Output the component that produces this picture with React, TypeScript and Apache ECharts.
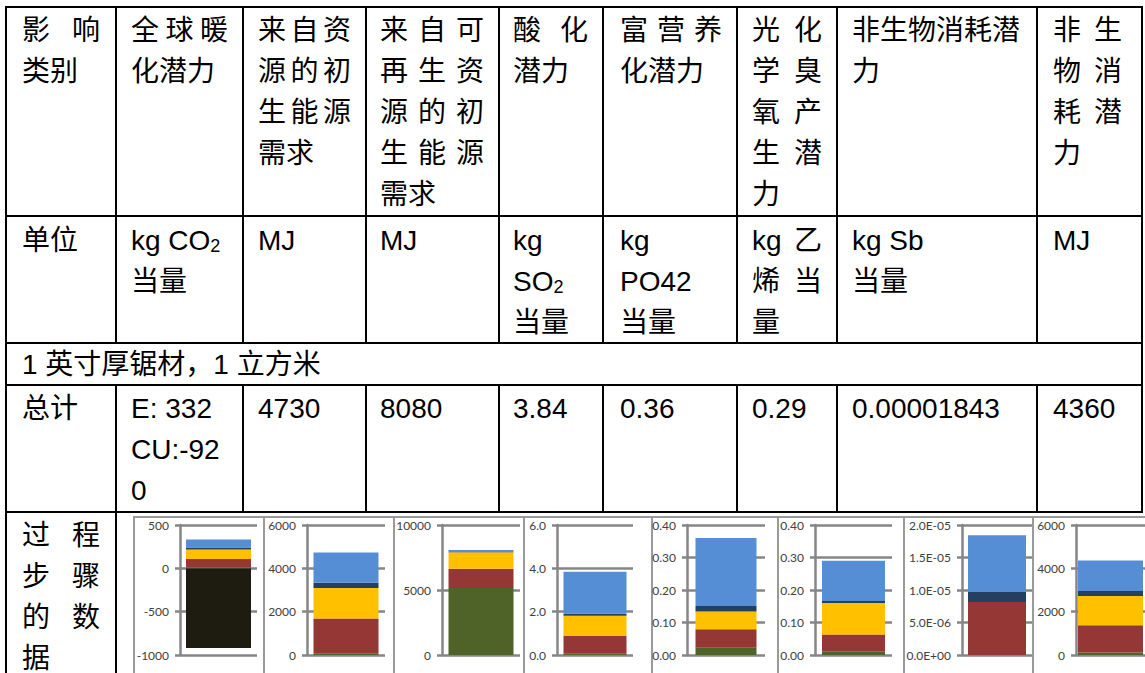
import React, { useEffect, useRef } from 'react';
import * as echarts from 'echarts';

// ---------- table texts ----------
// A line is a string (left aligned) or an array of tokens (justified across the cell)
type Line = string | string[];

const headerCells: Line[][] = [
  [['影', '响'], '类别'],
  [['全', '球', '暖'], '化潜力'],
  [['来', '自', '资'], ['源', '的', '初'], ['生', '能', '源'], '需求'],
  [['来', '自', '可'], ['再', '生', '资'], ['源', '的', '初'], ['生', '能', '源'], '需求'],
  [['酸', '化'], '潜力'],
  [['富', '营', '养'], '化潜力'],
  [['光', '化'], ['学', '臭'], ['氧', '产'], ['生', '潜'], '力'],
  ['非生物消耗潜', '力'],
  [['非', '生'], ['物', '消'], ['耗', '潜'], '力'],
];

const unitCells: Line[][] = [
  ['单位'],
  ['kg CO₂', '当量'],
  ['MJ'],
  ['MJ'],
  ['kg', 'SO₂', '当量'],
  ['kg', 'PO42', '当量'],
  [['kg', '乙'], ['烯', '当'], '量'],
  ['kg Sb', '当量'],
  ['MJ'],
];

const sectionTitle = '1 英寸厚锯材，1 立方米';

const totalCells: Line[][] = [
  ['总计'],
  ['E: 332', 'CU:-92', '0'],
  ['4730'],
  ['8080'],
  ['3.84'],
  ['0.36'],
  ['0.29'],
  ['0.00001843'],
  ['4360'],
];

const processLabel: Line[] = [['过', '程'], ['步', '骤'], ['的', '数'], '据'];

// ---------- chart data (one stacked bar per impact category) ----------
const chartNames = ['全球暖化潜力', '初生能源(资源)', '初生能源(可再生)', '酸化潜力', '富营养化潜力', '光化学臭氧', '非生物消耗', '非生物消耗能源'];
const uptakeVals = [-920, 0, 0, 0, 0, 0, 0, 0];
const greenVals = [10, 80, 5150, 0.06, 0.022, 0.01, 0, 110];
const redVals = [98, 1600, 1490, 0.82, 0.057, 0.053, 8.15e-6, 1260];
const yellowVals = [110, 1410, 1270, 0.93, 0.055, 0.097, 0, 1350];
const navyVals = [22, 250, 20, 0.09, 0.017, 0.006, 1.55e-6, 230];
const blueVals = [92, 1390, 150, 1.94, 0.209, 0.124, 8.73e-6, 1410];

const yMins = [-1000, 0, 0, 0, 0, 0, 0, 0];
const yMaxs = [500, 6000, 10000, 6, 0.4, 0.4, 2e-5, 6000];
const yIntervals = [500, 2000, 5000, 2, 0.1, 0.1, 5e-6, 2000];
const yFormats = ['int', 'int', 'int', 'f1', 'f2', 'f2', 'exp', 'int'];

// ---------- layout ----------
const FONT = '"Liberation Sans", "Noto Sans CJK SC", sans-serif';
const FS = 28;
const colBorders = [6, 116, 243, 366, 499, 603, 737, 837, 1037, 1142];
const contentLeft = [22, 131, 258, 380, 513, 620, 752, 852, 1053];
const contentRight = [100, 228, 351, 484, 588, 722, 822, 1022, 1122];
const rowLines = [7, 216, 343, 385, 512];
const LINE_H = 41;

const frameX = [134, 264, 394, 524, 652, 778, 904, 1033, 1170];
const axisX = [180, 307, 442, 557, 687, 815, 962, 1076];
const gridW = [77, 78, 78, 76, 78, 77, 70, 77];
const barW = [65, 65, 65, 63, 61, 63, 58, 65];
const PLOT_TOP = 525;
const PLOT_H = 130;

const layerColors = ['#1E1B11', '#4F6228', '#953735', '#FFC000', '#243F60', '#558ED5'];
const layerVals = [uptakeVals, greenVals, redVals, yellowVals, navyVals, blueVals];

let measureCtx: CanvasRenderingContext2D | null = null;
function textWidth(s: string, size: number): number {
  if (!measureCtx) measureCtx = document.createElement('canvas').getContext('2d');
  if (!measureCtx) return s.length * size * 0.55;
  measureCtx.font = `${size}px ${FONT}`;
  return measureCtx.measureText(s).width;
}

function txt(text: string, x: number, y: number, align: string, size = FS): any {
  return {
    type: 'text',
    x,
    y,
    silent: true,
    style: { text, fill: '#000', fontSize: size, fontFamily: FONT, align, verticalAlign: 'middle' },
  };
}

function lineTexts(line: Line, left: number, right: number, y: number): any[] {
  const out: any[] = [];
  if (Array.isArray(line)) {
    const n = line.length;
    line.forEach((tok, i) => {
      if (i === 0) out.push(txt(tok, left, y, 'left'));
      else if (i === n - 1) out.push(txt(tok, right, y, 'right'));
      else out.push(txt(tok, left + ((right - left) * i) / (n - 1), y, 'center'));
    });
  } else if (line.includes('₂')) {
    const [base, rest] = line.split('₂');
    out.push(txt(base, left, y, 'left'));
    const w = textWidth(base, FS);
    out.push(txt('2', left + w, y + 6, 'left', 18));
    if (rest) out.push(txt(rest, left + w + 10, y, 'left'));
  } else {
    out.push(txt(line, left, y, 'left'));
  }
  return out;
}

function cellTexts(cells: Line[][], firstY: number): any[] {
  const out: any[] = [];
  cells.forEach((lines, c) => {
    lines.forEach((ln, k) => {
      out.push(...lineTexts(ln, contentLeft[c], contentRight[c], firstY + k * LINE_H));
    });
  });
  return out;
}

function hLine(x1: number, x2: number, y: number, color = '#000', w = 2): any {
  return { type: 'line', silent: true, shape: { x1, y1: y, x2, y2: y }, style: { stroke: color, lineWidth: w } };
}
function vLine(x: number, y1: number, y2: number, color = '#000', w = 2): any {
  return { type: 'line', silent: true, shape: { x1: x, y1, x2: x, y2 }, style: { stroke: color, lineWidth: w } };
}

function fmt(kind: string, v: number): string {
  if (kind === 'f1') return v.toFixed(1);
  if (kind === 'f2') return v.toFixed(2);
  if (kind === 'exp') {
    const [m, e] = v.toExponential(1).split('e');
    const sign = e[0] === '-' ? '-' : '+';
    const digits = e.replace(/^[+-]/, '').padStart(2, '0');
    return `${m}E${sign}${digits}`;
  }
  return String(Math.round(v));
}

function buildOption(): any {
  const graphics: any[] = [];
  // table grid
  rowLines.forEach((y) => graphics.push(hLine(5, 1143, y)));
  graphics.push(vLine(6, 6, 673));
  graphics.push(vLine(1142, 6, 513));
  colBorders.slice(1, -1).forEach((x) => {
    graphics.push(vLine(x, rowLines[0], rowLines[2]));
    graphics.push(vLine(x, rowLines[3], rowLines[4]));
  });
  graphics.push(vLine(116, 512, 673));
  // chart frames
  for (let i = 0; i < 8; i++) {
    graphics.push({
      type: 'rect',
      silent: true,
      shape: { x: frameX[i], y: 517, width: frameX[i + 1] - frameX[i], height: 200 },
      style: { fill: 'none', stroke: '#9a9a9a', lineWidth: 2 },
    });
  }
  // texts
  graphics.push(...cellTexts(headerCells, 30));
  graphics.push(...cellTexts(unitCells, 240));
  graphics.push(txt(sectionTitle, 22, 364, 'left'));
  graphics.push(...cellTexts(totalCells, 408));
  processLabel.forEach((ln, k) => graphics.push(...lineTexts(ln, contentLeft[0], contentRight[0], 535 + k * LINE_H)));

  const grids: any[] = [];
  const xAxes: any[] = [];
  const yAxes: any[] = [];
  const series: any[] = [];
  const axisStyle = { color: '#868686', width: 2.5 };
  for (let i = 0; i < 8; i++) {
    grids.push({ left: axisX[i], top: PLOT_TOP, width: gridW[i], height: PLOT_H, containLabel: false });
    xAxes.push({ type: 'category', gridIndex: i, data: [chartNames[i]], show: false });
    const kind = yFormats[i];
    yAxes.push({
      type: 'value',
      gridIndex: i,
      min: yMins[i],
      max: yMaxs[i],
      interval: yIntervals[i],
      axisLine: { show: true, lineStyle: axisStyle },
      axisTick: { show: true, length: 5, lineStyle: axisStyle },
      splitLine: { show: true, lineStyle: axisStyle },
      axisLabel: {
        margin: 11,
        color: '#404040',
        fontSize: 12,
        fontFamily: 'Lato, "Open Sans", sans-serif',
        formatter: (v: number) => fmt(kind, v),
      },
    });
    layerVals.forEach((vals, L) => {
      if (L === 0 && vals[i] === 0) return;
      series.push({
        type: 'bar',
        name: `s${i}_${L}`,
        xAxisIndex: i,
        yAxisIndex: i,
        stack: `stack${i}`,
        stackStrategy: 'samesign',
        barWidth: barW[i],
        data: [vals[i]],
        itemStyle: { color: layerColors[L] },
        silent: true,
      });
    });
  }

  return {
    animation: false,
    backgroundColor: '#ffffff',
    grid: grids,
    xAxis: xAxes,
    yAxis: yAxes,
    series,
    graphic: { elements: graphics },
  };
}

export default function App() {
  const ref = useRef<HTMLDivElement>(null);
  useEffect(() => {
    if (!ref.current) return;
    const chart = echarts.init(ref.current, undefined, { renderer: 'svg' });
    chart.setOption(buildOption());
    return () => chart.dispose();
  }, []);
  return (
    <div
      ref={ref}
      style={{ position: 'absolute', left: 0, top: 0, width: 1145, height: 673, overflow: 'hidden' }}
    />
  );
}
